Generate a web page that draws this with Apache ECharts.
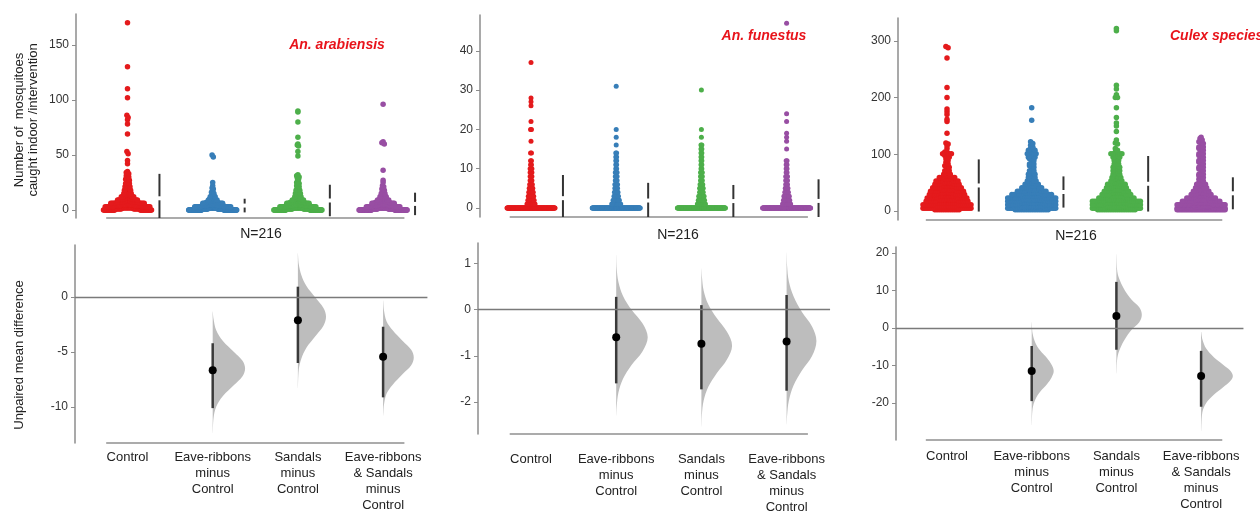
<!DOCTYPE html>
<html><head><meta charset="utf-8">
<script src="https://cdn.jsdelivr.net/npm/echarts@6/dist/echarts.min.js"></script>
<style>html,body{margin:0;padding:0;background:#fff}#c{width:1260px;height:515px}</style>
</head><body><div id="c"></div>
<script>
// ---------------- DATA ----------------
const groups = ['Control', 'Eave-ribbons', 'Sandals', 'Eave-ribbons & Sandals'];
const diffLabels = ['Control', 'Eave-ribbons\nminus\nControl', 'Sandals\nminus\nControl', 'Eave-ribbons\n& Sandals\nminus\nControl'];
const species = ['An. arabiensis', 'An. funestus', 'Culex species'];
const sampleLabel = 'N=216';
const yTitleTop = 'Number of  mosquitoes\ncaught indoor /intervention';
const yTitleBottom = 'Unpaired mean difference';
const groupColors = ['#e41a1c', '#377eb8', '#4daf4a', '#984ea3'];

// mosquitoes per observation: [value, number of observations] (216 per group)
const arabControl = [[0,38],[1,22],[2,18],[3,14],[4,12],[5,11],[6,10],[7,10],[8,8],[9,6],[10,6],[11,5],[12,4],[13,4],[14,3],[15,3],[16,2],[17,2],[18,2],[19,2],[20,2],[21,2],[22,2],[23,1],[24,2],[25,1],[26,1],[27,1],[28,2],[29,1],[30,1],[31,1],[32,1],[33,1],[34,1],[35,1],[42,1],[45,1],[51,1],[53,1],[69,1],[78,1],[82,1],[84,1],[86,1],[102,1],[110,1],[130,1],[170,1]];
const arabEave = [[0,80],[1,40],[2,27],[3,12],[4,10],[5,8],[6,7],[7,5],[8,5],[9,3],[10,3],[11,2],[12,2],[13,2],[14,1],[15,1],[16,1],[17,1],[19,1],[20,1],[22,1],[25,1],[48,1],[50,1]];
const arabSandals = [[0,62],[1,34],[2,26],[3,11],[4,10],[5,9],[6,7],[7,6],[8,6],[9,4],[10,3],[11,3],[12,2],[13,2],[14,2],[15,2],[16,2],[17,1],[18,2],[19,1],[20,1],[21,1],[22,1],[23,1],[24,1],[25,1],[26,1],[28,1],[29,1],[30,1],[31,1],[32,1],[49,1],[53,1],[58,1],[59,1],[60,1],[66,1],[80,1],[89,1],[90,1]];
const arabBoth = [[0,72],[1,37],[2,28],[3,11],[4,9],[5,8],[6,7],[7,6],[8,6],[9,4],[10,3],[11,3],[12,2],[13,2],[14,2],[15,2],[16,1],[17,1],[18,1],[19,1],[20,1],[21,1],[22,1],[25,1],[27,1],[36,1],[60,1],[61,1],[62,1],[96,1]];

const funControl = [[0,150],[1,10],[2,8],[3,7],[4,6],[5,5],[6,4],[7,3],[8,3],[9,3],[10,3],[11,2],[12,2],[14,2],[17,1],[20,2],[22,1],[26,1],[27,1],[28,1],[37,1]];
const funEave = [[0,155],[1,11],[2,8],[3,6],[4,5],[5,4],[6,4],[7,3],[8,3],[9,3],[10,2],[11,2],[12,2],[13,2],[14,2],[16,1],[18,1],[20,1],[31,1]];
const funSandals = [[0,151],[1,10],[2,8],[3,7],[4,5],[5,5],[6,4],[7,3],[8,3],[9,3],[10,2],[11,2],[12,2],[13,2],[14,2],[15,2],[16,2],[18,1],[20,1],[30,1]];
const funBoth = [[0,158],[1,10],[2,8],[3,7],[4,5],[5,4],[6,3],[7,3],[8,3],[9,2],[10,2],[11,2],[12,2],[15,1],[17,1],[18,1],[19,1],[22,1],[24,1],[47,1]];

const culexControl = [[2,12],[5,13],[8,12],[11,13],[14,12],[17,10],[20,10],[23,10],[26,9],[29,9],[32,8],[35,8],[38,8],[41,7],[44,7],[47,6],[50,6],[53,6],[56,5],[59,4],[62,4],[65,2],[68,2],[71,2],[74,1],[77,1],[80,2],[83,1],[86,1],[89,1],[92,1],[95,1],[98,2],[101,3],[104,2],[110,1],[115,1],[118,1],[120,1],[137,1],[158,1],[162,1],[170,1],[175,1],[180,1],[200,1],[218,1],[270,1],[288,1],[290,1]];
const culexEave = [[2,16],[5,14],[8,14],[11,14],[14,14],[17,13],[20,13],[23,12],[26,12],[29,10],[32,9],[35,7],[38,7],[41,5],[44,5],[47,4],[50,3],[53,3],[56,2],[59,2],[62,2],[65,2],[68,2],[71,2],[74,1],[77,1],[80,2],[83,2],[86,1],[89,1],[92,2],[95,2],[98,2],[101,3],[104,2],[107,2],[110,2],[113,1],[116,1],[119,1],[122,1],[160,1],[182,1]];
const culexSandals = [[2,18],[5,14],[8,14],[11,14],[14,14],[17,12],[20,12],[23,9],[26,8],[29,7],[32,7],[35,6],[38,6],[41,5],[44,5],[47,5],[50,4],[53,3],[56,3],[59,3],[62,2],[65,2],[68,2],[71,2],[74,2],[77,2],[80,2],[83,2],[86,1],[89,2],[92,1],[95,2],[98,2],[101,4],[104,2],[107,1],[110,1],[118,1],[120,1],[125,1],[140,1],[150,1],[155,1],[165,1],[182,1],[200,2],[205,1],[215,1],[222,1],[318,1],[322,1]];
const culexBoth = [[2,30],[5,25],[8,23],[11,20],[14,17],[17,10],[20,8],[23,8],[26,6],[29,5],[32,5],[35,4],[38,4],[41,3],[44,3],[47,3],[50,2],[53,1],[56,2],[59,1],[62,2],[65,2],[68,1],[71,1],[74,2],[77,2],[80,1],[83,1],[86,2],[89,2],[92,1],[95,1],[98,2],[101,2],[104,1],[107,1],[110,2],[113,2],[116,1],[119,1],[122,2],[125,1],[128,1],[130,1]];

// group mean and SD (gap bars)
const groupMean = [[10.6, 4.0, 8.6, 5.5], [2.5, 1.9, 1.76, 1.8], [45, 33.5, 48, 31.2]];
const groupSD = [[22.2, 6.2, 14.3, 10.2], [5.9, 4.5, 4.1, 5.5], [46, 27.5, 49, 28.2]];

// mean differences vs Control with 95% CI
const diffMean = [[-6.65, -2.1, -5.42], [-0.6, -0.74, -0.69], [-11.5, 3.2, -12.8]];
const diffLow = [[-10.1, -6.0, -9.12], [-1.6, -1.73, -1.76], [-19.5, -5.8, -21.0]];
const diffHigh = [[-4.2, 0.94, -2.7], [0.28, 0.1, 0.32], [-4.8, 12.3, -6.1]];

// bootstrap distributions: [value, half-width in category units]
const violinArab = [
  [[-1.3,0],[-2,0.01],[-3,0.04],[-4,0.12],[-5,0.25],[-5.8,0.35],[-6.5,0.38],[-7.2,0.35],[-8,0.25],[-9,0.12],[-10,0.04],[-11,0.01],[-12.4,0]],
  [[4,0],[3,0.01],[2,0.04],[1,0.1],[0,0.2],[-1,0.3],[-1.8,0.33],[-2.6,0.3],[-3.6,0.2],[-4.6,0.1],[-5.6,0.04],[-6.6,0.01],[-8.3,0]],
  [[-0.3,0],[-1.2,0.01],[-2.2,0.04],[-3,0.11],[-4,0.23],[-4.8,0.33],[-5.5,0.36],[-6.2,0.33],[-7,0.23],[-8,0.11],[-8.8,0.04],[-9.8,0.01],[-10.8,0]]
];
const violinFun = [
  [[1.2,0],[0.9,0.006],[0.6,0.026],[0.3,0.08],[0,0.18],[-0.3,0.31],[-0.6,0.37],[-0.9,0.31],[-1.2,0.18],[-1.5,0.08],[-1.8,0.026],[-2.1,0.006],[-2.3,0]],
  [[0.9,0],[0.72,0.006],[0.42,0.026],[0.12,0.08],[-0.18,0.18],[-0.48,0.3],[-0.78,0.36],[-1.08,0.3],[-1.38,0.18],[-1.68,0.08],[-1.98,0.026],[-2.28,0.006],[-2.55,0]],
  [[1.25,0],[0.95,0.006],[0.62,0.026],[0.3,0.08],[-0.05,0.18],[-0.37,0.3],[-0.68,0.35],[-1,0.3],[-1.32,0.18],[-1.65,0.08],[-1.98,0.026],[-2.3,0.006],[-2.5,0]]
];
const violinCulex = [
  [[1.6,0],[-1.5,0.011],[-4,0.044],[-6,0.1],[-8,0.18],[-9.8,0.235],[-11.5,0.26],[-13.2,0.235],[-15,0.18],[-17,0.1],[-19,0.044],[-21.5,0.011],[-26,0]],
  [[19.7,0],[15,0.011],[12.5,0.044],[10,0.1],[7.5,0.18],[5.5,0.27],[3.5,0.3],[1.5,0.27],[-0.5,0.18],[-3,0.1],[-5.5,0.044],[-8,0.011],[-12.2,0]],
  [[-1,0],[-3,0.015],[-5.5,0.06],[-7.8,0.15],[-9.8,0.26],[-11.3,0.34],[-12.8,0.375],[-14.3,0.34],[-15.8,0.26],[-17.8,0.15],[-20,0.06],[-22.5,0.015],[-27.6,0]]
];

const topTicks = [[0, 50, 100, 150], [0, 10, 20, 30, 40], [0, 100, 200, 300]];
const diffTicks = [[-10, -5, 0], [-2, -1, 0, 1], [-20, -10, 0, 10, 20]];

const swarmData = [
  [arabControl, arabEave, arabSandals, arabBoth],
  [funControl, funEave, funSandals, funBoth],
  [culexControl, culexEave, culexSandals, culexBoth]
];
const violinData = [violinArab, violinFun, violinCulex];

// ---------------- LAYOUT (pixels / styles) ----------------
const FONT = '"Liberation Sans", Arial, sans-serif';
const AXIS_COLOR = '#8c8c8c';
const BASE_COLOR = '#ababab';
const layout = [
  {c0:127.5, s:85.2, k:0.62, bin:3, binOff:0, dot:5.5,
   top:{ax:76, y0:14, y1:218, min:-7.3, max:178, xMax:3.55},
   bot:{ax:75, y0:245, y1:443, min:-13.27, max:4.73, xMax:3.52, margin:6},
   title:{x:337, y:45, align:'center'}, n:{x:261, y:234}},
  {c0:531, s:85.2, k:0.45, bin:1, binOff:0.5, dot:5,
   top:{ax:480, y0:15, y1:217, min:-2.29, max:49.1, xMax:3.55},
   bot:{ax:478, y0:243, y1:438, min:-2.70, max:1.45, xMax:3.51, margin:17},
   title:{x:764, y:36, align:'center'}, n:{x:678, y:235}},
  {c0:947, s:84.7, k:1.1, bin:6, binOff:0.5, dot:5.5,
   top:{ax:898, y0:18, y1:220, min:-15.9, max:340.4, xMax:3.5},
   bot:{ax:896, y0:247, y1:440, min:-29.87, max:21.6, xMax:3.5, margin:8},
   title:{x:1170, y:36, align:'left'}, n:{x:1076, y:236}}
];
const BAR_OFFSET = 0.375;
const BASE_FROM = -0.25, BASE_TO = 3.25;
const SWARM_CAP = 24;

function expand(pairs) {
  const out = [];
  pairs.forEach(([v, c]) => { for (let i = 0; i < c; i++) out.push(v); });
  return out;
}
// deterministic swarm layout: points of the same value band are spread evenly (pixel offsets)
function swarmLayout(vals, k, cap, bin, off) {
  const bins = {};
  vals.forEach(v => { const b = Math.floor(v / bin + off); (bins[b] = bins[b] || []).push(v); });
  const out = [];
  Object.keys(bins).forEach(b => {
    const arr = bins[b].slice().sort((a, c) => c - a);
    const n = arr.length;
    const W = Math.min(cap, k * (n - 1));
    const pos = [];
    for (let i = 0; i < n; i++) pos.push(n === 1 ? 0 : -W + 2 * W * i / (n - 1));
    pos.sort((a, c) => Math.abs(a) - Math.abs(c));
    arr.forEach((v, i) => out.push([pos[i], v]));
  });
  return out;
}

const grid = [], xAxis = [], yAxis = [], series = [], graphic = [];

layout.forEach((L, p) => {
  // ----- top swarm panel -----
  {
    const g = L.top; const xMin = (g.ax - L.c0) / L.s;
    grid.push({left: g.ax, top: g.y0, width: (g.xMax - xMin) * L.s, height: g.y1 - g.y0});
    const gi = grid.length - 1;
    xAxis.push({gridIndex: gi, type: 'value', min: xMin, max: g.xMax, show: false});
    yAxis.push({gridIndex: gi, type: 'value', min: g.min, max: g.max,
      splitLine: {show: false},
      axisLine: {show: true, onZero: false, lineStyle: {color: AXIS_COLOR, width: 1.5}},
      axisTick: {show: true, customValues: topTicks[p], length: 4, lineStyle: {color: AXIS_COLOR}},
      axisLabel: {customValues: topTicks[p], fontSize: 12, color: '#333', fontFamily: FONT, margin: 7}});
    swarmData[p].forEach((pairs, gIdx) => {
      const pts = swarmLayout(expand(pairs), L.k, SWARM_CAP, L.bin, L.binOff).map(([dx, v]) => [gIdx + dx / L.s, v]);
      series.push({type: 'scatter', xAxisIndex: gi, yAxisIndex: gi, data: pts, symbolSize: L.dot,
        itemStyle: {color: groupColors[gIdx], opacity: 1}, silent: true, z: 2});
    });
    series.push({type: 'custom', xAxisIndex: gi, yAxisIndex: gi, silent: true, z: 4,
      data: groupMean[p].map((m, i) => [i + BAR_OFFSET, m, groupSD[p][i]]),
      renderItem: (params, api) => {
        const x = api.value(0), m = api.value(1), sd = api.value(2);
        const t = api.coord([x, m + sd]), c = api.coord([x, m]), b = api.coord([x, m - sd]);
        const bottom = params.coordSys.y + params.coordSys.height;
        const by = Math.min(b[1], bottom);
        const st = {stroke: '#333', lineWidth: 2};
        return {type: 'group', children: [
          {type: 'line', shape: {x1: t[0], y1: t[1], x2: c[0], y2: c[1] - 2}, style: st},
          {type: 'line', shape: {x1: c[0], y1: c[1] + 2, x2: b[0], y2: by}, style: st}
        ]};
      }});
    series.push({type: 'line', xAxisIndex: gi, yAxisIndex: gi, silent: true, clip: false, showSymbol: false, symbol: 'none',
      data: [[BASE_FROM, g.min], [BASE_TO, g.min]], lineStyle: {color: BASE_COLOR, width: 2}, z: 1});
  }
  // ----- bottom difference panel -----
  {
    const g = L.bot; const xMin = (g.ax - L.c0) / L.s;
    grid.push({left: g.ax, top: g.y0, width: (g.xMax - xMin) * L.s, height: g.y1 - g.y0});
    const gi = grid.length - 1;
    xAxis.push({gridIndex: gi, type: 'value', min: xMin, max: g.xMax,
      axisLine: {show: false}, axisTick: {show: false}, splitLine: {show: false},
      axisLabel: {customValues: [0, 1, 2, 3], formatter: v => diffLabels[Math.round(v)],
        fontSize: 13, lineHeight: 16, color: '#222', fontFamily: FONT, margin: g.margin}});
    yAxis.push({gridIndex: gi, type: 'value', min: g.min, max: g.max,
      splitLine: {show: false},
      axisLine: {show: true, onZero: false, lineStyle: {color: AXIS_COLOR, width: 1.5}},
      axisTick: {show: true, customValues: diffTicks[p], length: 4, lineStyle: {color: AXIS_COLOR}},
      axisLabel: {customValues: diffTicks[p], fontSize: 12, color: '#333', fontFamily: FONT, margin: 7}});
    const prof = violinData[p];
    series.push({type: 'custom', xAxisIndex: gi, yAxisIndex: gi, silent: true, z: 2,
      data: prof.map((_, i) => [i + 1, i]),
      renderItem: (params, api) => {
        const cx = api.value(0); const pr = prof[api.value(1)];
        const right = pr.map(([v, w]) => api.coord([cx + w, v]));
        const center = pr.slice(1, -1).reverse().map(([v]) => api.coord([cx, v]));
        return {type: 'polygon', shape: {points: right.concat(center), smooth: 0.35},
          style: {fill: '#bdbdbd'}};
      }});
    series.push({type: 'line', xAxisIndex: gi, yAxisIndex: gi, silent: true, clip: false, showSymbol: false, symbol: 'none',
      data: [[BASE_FROM, g.min], [BASE_TO, g.min]], lineStyle: {color: BASE_COLOR, width: 2}, z: 3,
      markLine: {silent: true, symbol: 'none', label: {show: false}, data: [{yAxis: 0}],
        lineStyle: {color: '#7a7a7a', width: 1.3, type: 'solid'}}});
    series.push({type: 'custom', xAxisIndex: gi, yAxisIndex: gi, silent: true, z: 4,
      data: diffMean[p].map((m, i) => [i + 1, diffLow[p][i], diffHigh[p][i]]),
      renderItem: (params, api) => {
        const a = api.coord([api.value(0), api.value(1)]), b = api.coord([api.value(0), api.value(2)]);
        return {type: 'line', shape: {x1: a[0], y1: a[1], x2: b[0], y2: b[1]}, style: {stroke: '#3a3a3a', lineWidth: 2.5}};
      }});
    series.push({type: 'scatter', xAxisIndex: gi, yAxisIndex: gi, silent: true, z: 5, symbolSize: 8,
      data: diffMean[p].map((m, i) => [i + 1, m]), itemStyle: {color: '#000', opacity: 1}});
  }
  graphic.push({type: 'text', x: L.title.x, y: L.title.y, silent: true,
    style: {text: species[p], fill: '#e8141b', font: 'italic bold 14px ' + FONT,
      align: L.title.align, verticalAlign: 'middle', textAlign: L.title.align, textVerticalAlign: 'middle'}});
  graphic.push({type: 'text', x: L.n.x, y: L.n.y, silent: true,
    style: {text: sampleLabel, fill: '#222', font: '14px ' + FONT,
      align: 'center', verticalAlign: 'middle', textAlign: 'center', textVerticalAlign: 'middle'}});
});

graphic.push({type: 'text', x: 26, y: 120, rotation: Math.PI / 2, silent: true,
  style: {text: yTitleTop, fill: '#222', font: '13px ' + FONT, lineHeight: 14,
    align: 'center', verticalAlign: 'middle', textAlign: 'center', textVerticalAlign: 'middle'}});
graphic.push({type: 'text', x: 19.5, y: 355, rotation: Math.PI / 2, silent: true,
  style: {text: yTitleBottom, fill: '#222', font: '13px ' + FONT,
    align: 'center', verticalAlign: 'middle', textAlign: 'center', textVerticalAlign: 'middle'}});

const chart = echarts.init(document.getElementById('c'), null, {renderer: 'canvas'});
chart.setOption({
  animation: false,
  backgroundColor: '#fff',
  textStyle: {fontFamily: FONT},
  grid, xAxis, yAxis, series, graphic
});
</script>
</body></html>
